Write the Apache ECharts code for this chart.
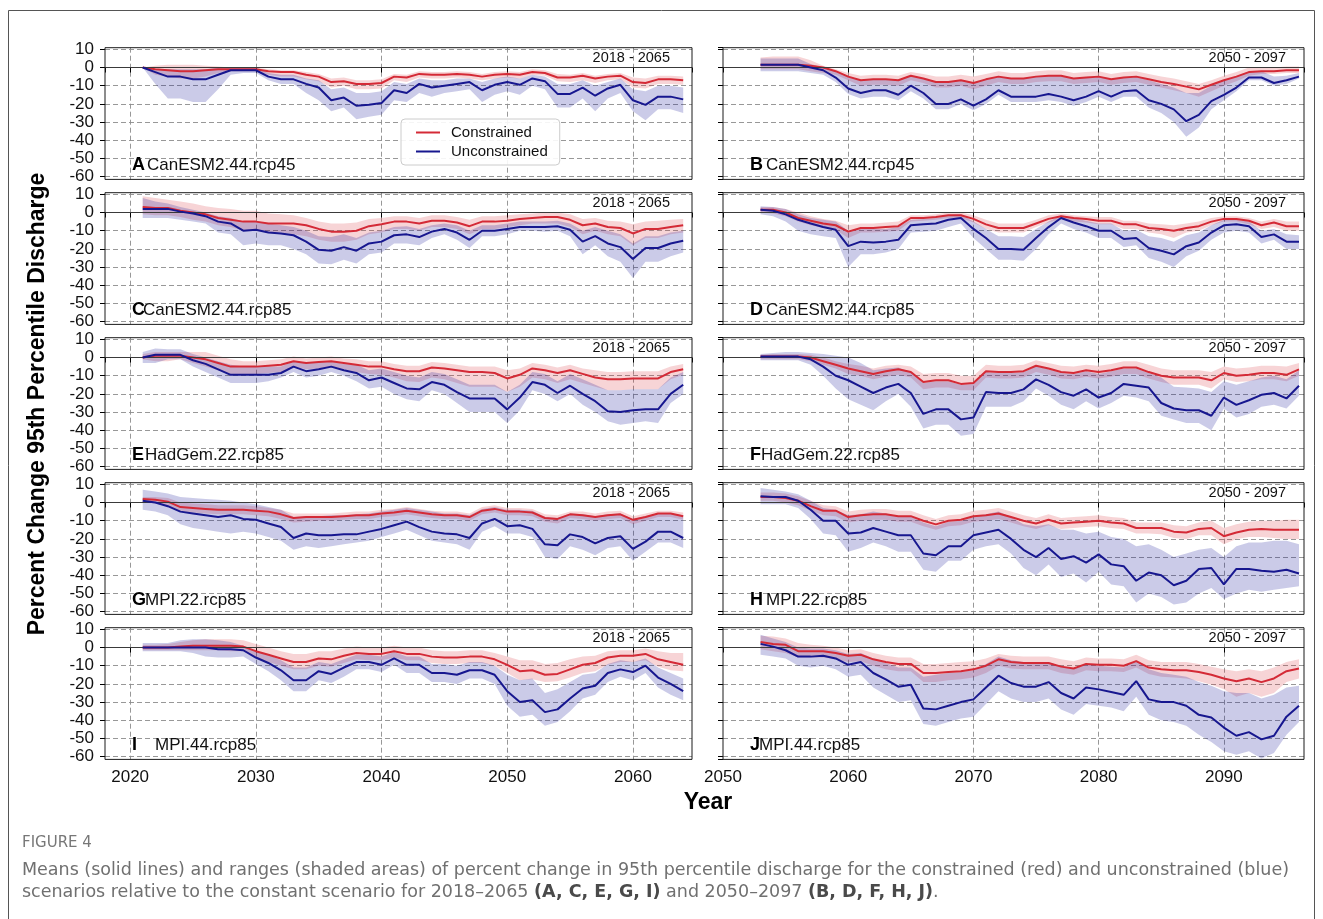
<!DOCTYPE html>
<html>
<head>
<meta charset="utf-8">
<script src="https://cdn.jsdelivr.net/npm/echarts@6/dist/echarts.min.js"></script>
<style>
  html, body { margin: 0; padding: 0; background: #fff; }
  #chart { width: 1323px; height: 919px; }
</style>
</head>
<body>
<div id="chart"></div>
<script>
// ---- years on each time window ----
const yearsEarly = [2021,2022,2023,2024,2025,2026,2027,2028,2029,2030,2031,2032,2033,2034,2035,2036,2037,2038,2039,2040,2041,2042,2043,2044,2045,2046,2047,2048,2049,2050,2051,2052,2053,2054,2055,2056,2057,2058,2059,2060,2061,2062,2063,2064];
const yearsLate  = [2053,2054,2055,2056,2057,2058,2059,2060,2061,2062,2063,2064,2065,2066,2067,2068,2069,2070,2071,2072,2073,2074,2075,2076,2077,2078,2079,2080,2081,2082,2083,2084,2085,2086,2087,2088,2089,2090,2091,2092,2093,2094,2095,2096];

const xTicksEarly = [2020, 2030, 2040, 2050, 2060];
const xTicksLate  = [2050, 2060, 2070, 2080, 2090];
const yTicks = [10, 0, -10, -20, -30, -40, -50, -60];
const periodEarly = '2018 - 2065';
const periodLate  = '2050 - 2097';

// ---- A: CanESM2.44.rcp45 (2018-2065) ----
const A_con   = [0,-1,-1.5,-2,-2,-1.5,-1,-1,-1,-1,-2,-2.5,-2.5,-4,-5,-8,-7.5,-9,-9,-8.5,-5,-5.5,-3.5,-4,-4,-3.5,-4,-5,-4,-3.5,-4,-2.5,-3,-5.5,-5.5,-4.5,-6,-5,-4.5,-8,-8.5,-6.5,-6.5,-7];
const A_conHi = [0,1,1.5,1.5,1.5,1,0.5,0,0,0,-1,-1.5,-1.5,-2.5,-3.5,-6,-5.5,-7,-7,-6.5,-3.5,-4,-2,-2.5,-2.5,-2,-2.5,-3.5,-2.5,-2,-2.5,-1,-1.5,-3.5,-4,-3,-4.5,-3.5,-3,-5.5,-6,-4.5,-4.5,-5];
const A_conLo = [0,-4,-5,-6,-6,-5,-3,-2,-2,-2,-4,-5,-5,-6.5,-7.5,-11,-10,-12,-12,-11.5,-7,-8,-5.5,-6,-6,-5.5,-6,-7,-6,-5.5,-6,-4,-4.5,-7.5,-8,-7,-8.5,-7,-6.5,-11,-11.5,-9,-9,-9.5];
const A_unc   = [0,-2.5,-5,-5,-6.5,-6.5,-4,-1.5,-1.5,-1.5,-5,-6.5,-6.5,-9,-11,-18,-16.5,-21,-20.5,-19.5,-12.5,-14,-9,-11,-10,-9,-8,-12.5,-9.5,-8,-9.5,-6,-7.5,-14.5,-14.5,-11,-15.5,-11.5,-9.5,-18,-20.5,-16,-16,-17.5];
const A_uncHi = [0,-1,-1,-1,-1,-1,0,0,0,0,-3,-4,-4,-6,-7,-12,-11,-14,-14,-13,-8,-9,-6,-7,-7,-6,-6,-8,-6,-5,-6,-4,-5,-9,-9,-7,-10,-8,-6,-12,-13,-10,-10,-11];
const A_uncLo = [0,-9,-17,-17,-19,-19,-12,-4,-3,-3,-7,-9,-9,-14,-18,-24,-22,-28.5,-27,-26,-18,-19,-14,-16,-14,-13,-12,-19,-15,-13,-15,-10,-12,-22,-22,-17,-24,-17,-14,-24,-29,-23,-23,-25];

// ---- B: CanESM2.44.rcp45 (2050-2097) ----
const B_con   = [1.5,1.5,1.5,1.5,1,0,-2,-5,-7,-6.5,-6.5,-7,-4.5,-6,-8,-8,-7,-8.5,-6.5,-5,-6,-6,-5,-4.5,-4.5,-6,-5.5,-5,-6.5,-5.5,-5,-6.5,-8,-9,-10.5,-12,-9.5,-7,-5,-2.5,-2,-2,-1.5,-1.5];
const B_conHi = [5.5,6,6,6,4,1,-1,-3,-4.5,-4,-4,-4.5,-2.5,-3.5,-5,-5,-4,-5,-3.5,-2,-3,-3,-2,-1.5,-1.5,-3,-2.5,-2,-3.5,-2.5,-2,-3.5,-5,-6,-7.5,-9,-7,-4.5,-2.5,0,0,0,0.5,0.5];
const B_conLo = [-1,-1,-1,-1,-2,-3,-4,-7,-10,-9.5,-9.5,-10,-7,-8.5,-11,-11,-10,-12,-10,-8,-9,-9,-8,-7.5,-7.5,-9,-8.5,-8,-9.5,-8.5,-8,-9.5,-11,-12.5,-14,-16,-13,-10,-7.5,-4.5,-3.5,-3.5,-3,-3];
const B_unc   = [1.5,1.5,1.5,1.5,0,-1.5,-5.5,-11.5,-14,-12.5,-12.5,-15,-10,-14,-20,-20,-17.5,-21,-17.5,-12.5,-16,-16,-16,-14.5,-16,-18,-16,-13,-16,-13,-12.5,-18,-20,-23,-29.5,-26,-18.5,-15,-11,-5.5,-5.5,-8.5,-7,-5];
const B_uncHi = [5,5,5,5,2,0,-2,-5,-7,-6.5,-6.5,-7,-4.5,-6,-8,-8,-7,-8.5,-6.5,-5,-6,-6,-5,-4.5,-4.5,-6,-5.5,-5,-6.5,-5.5,-5,-7,-9,-11,-14,-14,-10,-7,-5,-2,-2,-5,-4.5,-3];
const B_uncLo = [-2,-2,-2,-2,-3,-4,-8,-14.5,-17,-16,-16,-18,-13,-17,-23,-23,-20,-23.5,-20,-15,-19,-19,-19,-18,-19,-21,-19,-16,-19,-16,-16,-22,-25,-30,-38,-33,-23,-18,-13,-7,-7,-10,-9,-6];

// ---- C: CanESM2.44.rcp85 (2018-2065) ----
const C_con   = [3,2.5,2.5,1,0,-1,-3,-4,-5,-5,-6,-6,-6,-7,-9,-10.5,-10.5,-10,-7.5,-6.5,-5,-5,-6,-4.5,-4.5,-5.5,-7.5,-5,-5,-4.5,-3.5,-3,-2.5,-2.5,-4,-7,-6,-8,-8.5,-11.5,-9,-9,-8,-7];
const C_conHi = [9,8,7,6,5,3.5,2.5,2,1,1,-0.5,-1,-1.5,-3,-5,-6,-6,-5.5,-3.5,-3,-2,-2,-3,-1.5,-1.5,-2.5,-4,-2,-2,-1.5,-1,-0.5,0,0,-1,-3.5,-3,-4.5,-5,-6.5,-5,-4.5,-4,-3.5];
const C_conLo = [-1,-1.5,-1.5,-2.5,-4,-5,-7,-8,-10,-10,-11,-11,-12,-13,-15,-16,-16,-15,-12,-11,-9,-9,-10,-8,-8,-9,-12,-9,-9,-8,-7,-6,-6,-6,-8,-12,-10,-12,-13,-18,-14,-14,-12,-11];
const C_unc   = [2,2,2,0.5,-0.5,-2,-5,-6,-10,-9.5,-11,-11.5,-12.5,-16,-20.5,-21,-19,-21,-17,-16,-12.5,-12,-13.5,-10.5,-9,-11,-15,-10,-10,-9,-8,-8,-8,-7.5,-9.5,-16,-13,-17,-19,-25.5,-19.5,-19.5,-17,-15.5];
const C_uncHi = [8,6,5,3,1.5,0,-2,-3,-5,-5,-6,-7,-8,-10,-13,-13.5,-12,-14,-11,-10,-8,-7.5,-9,-7,-6,-7,-10,-7,-7,-6,-5,-5,-5,-4.5,-6,-10,-8,-10,-12,-17,-13,-13,-11,-10];
const C_uncLo = [-3,-3,-3,-4,-5,-6,-11,-12,-18,-17,-18,-18,-20,-23,-28,-28.5,-26,-28,-23,-22,-17,-17,-18,-14,-12,-15,-19.5,-13,-13,-12,-10,-10,-10.5,-10,-13,-23,-18,-24,-27,-36,-27,-27,-24,-22];

// ---- D: CanESM2.44.rcp85 (2050-2097) ----
const D_con   = [1.5,1.5,0,-3,-4.5,-6,-7,-10.5,-8.5,-8.5,-8,-7.5,-3,-3,-2.5,-1.5,-1.5,-3.5,-6.5,-8.5,-8.5,-8.5,-6,-3.5,-2,-3,-3.5,-4.5,-4.5,-6.5,-6.5,-8.5,-9,-10,-8.5,-7.5,-5,-3.5,-3.5,-4.5,-7,-5.5,-7.5,-7.5];
const D_conHi = [3,3,2,0,-2,-3.5,-4.5,-7,-6,-6,-5.5,-5,-1.5,-1.5,-1,0,0,-1.5,-4,-6,-6,-6,-4,-1.5,-0.5,-1.5,-2,-2.5,-2.5,-4.5,-4.5,-6,-6.5,-7,-6,-5,-3,-2,-2,-3,-5,-3.5,-5,-5];
const D_conLo = [0,-0.5,-2,-5,-7,-8.5,-9.5,-14,-11,-11,-10.5,-10,-5,-4.5,-4,-3,-3,-5.5,-9,-11,-11,-11,-8,-5.5,-3.5,-5,-5.5,-6.5,-6.5,-9,-9,-11,-12,-14,-11,-10,-7,-5,-5,-6.5,-9,-8,-10,-10];
const D_unc   = [1.5,1,-1,-4,-6,-8,-9.5,-18.5,-16,-16.5,-16,-15,-7,-6.5,-6,-4,-3,-9,-14,-20,-20,-20.5,-14,-8,-3,-5.5,-7.5,-10,-10,-14.5,-14,-19.5,-21,-23,-18.5,-16.5,-11,-7,-6.5,-7.5,-13.5,-12,-16,-16];
const D_uncHi = [3.5,3,2,-1,-3,-4,-5,-10,-9,-9,-9,-8,-4,-3.5,-3,-1.5,-1,-5,-9,-13,-13,-13.5,-9,-5,-1.5,-3,-4.5,-6,-6,-10,-9.5,-13,-14,-16,-12.5,-11,-7,-4,-4,-5,-10,-9,-12,-12.5];
const D_uncLo = [-1,-2,-5,-10,-12,-13,-14,-30,-23,-23,-22,-20,-11,-10.5,-10,-8,-6,-14,-20,-26,-26,-26.5,-20,-12,-6,-9,-11,-14,-14,-19,-18,-25,-27,-30,-24,-21,-15,-11,-10,-11,-17,-15,-20,-20];

// ---- E: HadGem.22.rcp85 (2018-2065) ----
const E_con   = [0,1,1,1,0,-1,-3,-5,-5,-5,-4.5,-4,-2,-3,-2.5,-2,-3,-4,-5,-5,-6.5,-7.5,-7.5,-5.5,-6,-7,-8,-8,-8.5,-11.5,-9.5,-6,-7,-8.5,-7,-9,-11,-12,-12,-11.5,-11.5,-11.5,-8,-6.5];
const E_conHi = [2,3,3,3,3,3,1,-1,-2,-2,-1.5,-1,0.5,-0.5,0,0.5,-0.5,-1,-2,-2,-3.5,-4.5,-4.5,-2.5,-3,-4,-5,-5,-5,-7,-6,-3,-4,-5.5,-4,-6,-7,-8,-8,-7.5,-7.5,-7.5,-5,-3.5];
const E_conLo = [-1,-2,-2,-1,-3,-5,-7,-9,-9,-9,-8.5,-8,-5,-6.5,-6,-5,-6.5,-8,-9,-9.5,-11,-13,-13.5,-11,-12,-14,-16,-16,-16,-19,-16,-11,-12,-14,-12,-14,-16,-18,-18,-17.5,-17.5,-17.5,-12,-9.5];
const E_unc   = [0,1.5,1.5,1.5,-1.5,-3.5,-6.5,-9.5,-9.5,-9.5,-9.5,-8.5,-5,-7.5,-6.5,-5,-7,-8.5,-12.5,-11,-14,-17,-17.5,-13.5,-15,-19,-22.5,-22.5,-22.5,-28.5,-22,-13.5,-15,-19.5,-15.5,-20,-24,-29.5,-30,-29,-28.5,-28.5,-20,-15];
const E_uncHi = [3,5,4.5,4.5,2,0,-2,-4,-5,-5,-5,-5,-2,-3,-2.5,-2,-3.5,-4,-7,-6,-8,-10,-11,-8,-9,-12,-15,-15,-15,-19,-15,-8,-9,-13,-9,-12,-15,-18,-18,-17.5,-17.5,-17.5,-11,-8];
const E_uncLo = [-3,-3,-1,-1,-5,-8,-11,-14,-14,-14,-13,-11,-8,-11,-10,-8,-10,-13,-17,-16,-20,-23,-24,-18,-20,-25,-30,-30,-30,-36,-29,-18,-20,-24,-20,-26,-30,-35,-37,-36,-35,-36,-25,-20];

// ---- F: HadGem.22.rcp85 (2050-2097) ----
const F_con   = [0.5,0.5,0.5,0.5,0,-2,-4,-6,-7.5,-9,-7.5,-6.5,-8,-13.5,-12.5,-12.5,-14.5,-14,-7.5,-8,-8,-7.5,-4.5,-6,-8,-8.5,-7,-8,-7,-5.5,-5.5,-8,-10,-11,-11,-11,-12.5,-8.5,-10,-9.5,-8.5,-8.5,-9.5,-6.5];
const F_conHi = [1.5,2,2,2,1.5,0,-2,-3.5,-4.5,-6,-4.5,-4,-5,-9,-8.5,-8.5,-10,-10,-4,-4.5,-4.5,-4,-1.5,-3,-4.5,-5,-4,-4.5,-3.5,-2,-2,-4,-6,-7,-7,-7,-8,-5,-6,-5.5,-4.5,-4.5,-5,-3];
const F_conLo = [-1,-1,-1,-1,-2,-4,-6,-9,-10,-12,-10.5,-9.5,-11,-17.5,-16.5,-16.5,-18,-18,-11,-11.5,-11.5,-11,-8,-9.5,-11.5,-12,-10.5,-11.5,-10.5,-9,-9,-11.5,-13.5,-15,-15,-15,-17,-12,-13.5,-13,-12,-12,-13,-10];
const F_unc   = [0.5,0.5,0.5,0.5,-1,-5,-10,-12.5,-16,-19.5,-16.5,-14.5,-19.5,-31,-28.5,-28.5,-34,-33,-19,-19.5,-19.5,-17.5,-12,-15,-19,-21,-17.5,-22,-19.5,-14.5,-15.5,-16.5,-25,-28,-29,-29,-32,-22,-26,-23.5,-20.5,-19.5,-22.5,-15.5];
const F_uncHi = [2,2.5,3,3,2.5,2,1,0,-3,-7,-6,-5.5,-8,-14,-13,-13,-15,-14.5,-8,-8.5,-8.5,-8,-5,-6.5,-8.5,-9,-7.5,-9,-7.5,-6,-6,-8.5,-11,-16,-16.5,-17,-19,-13,-15,-13,-11,-10,-12,-7];
const F_uncLo = [-1.5,-1.5,-1.5,-1.5,-4,-10,-17,-23,-26,-29,-24,-20,-27,-39,-37,-37,-43,-42,-27,-27,-27,-24,-17,-21,-26,-28.5,-24,-28,-25,-21,-22,-24,-32,-34,-36,-36,-40,-28,-33,-31,-27,-26,-28,-21];

// ---- G: MPI.22.rcp85 (2018-2065) ----
const G_con   = [2,1.5,0.5,-2.5,-3,-3.5,-4,-4,-4,-4.5,-5,-6.5,-8.5,-8,-8,-8,-7.5,-7,-7,-6,-5.5,-4.5,-5.5,-6.5,-7,-7,-8,-4.5,-3.5,-5,-5,-5.5,-8.5,-9,-6.5,-7,-8,-7,-6.5,-9.5,-8,-6,-6,-7.5];
const G_conHi = [3,3,2.5,0,-0.5,-1,-1.5,-1.5,-1.5,-2,-3,-4,-6,-6,-6,-6,-5.5,-5,-5,-4,-3.5,-2.5,-3.5,-4.5,-5,-5,-6,-2.5,-1.5,-3,-3,-3.5,-6.5,-7,-5,-5,-6,-5,-4.5,-7.5,-6,-4.5,-4.5,-5.5];
const G_conLo = [0,-0.5,-2,-5,-5.5,-6,-6.5,-6.5,-6.5,-7,-7.5,-9,-11,-10.5,-10,-10,-9.5,-9,-9,-8,-7.5,-6.5,-7.5,-8.5,-9,-9,-10,-6.5,-5.5,-7,-7,-7.5,-10.5,-11.5,-8.5,-9,-10,-9,-8.5,-12,-10,-8,-8,-9.5];
const G_unc   = [1,0,-2,-5,-6,-7,-8,-7,-9,-9.5,-11.5,-13.5,-19.5,-17,-18,-18,-17.5,-17.5,-16,-14.5,-12.5,-10.5,-13.5,-16,-17,-17.5,-19.5,-11.5,-9,-13,-12.5,-14.5,-23,-23.5,-17.5,-19,-22.5,-19.5,-18.5,-25.5,-21.5,-16,-16,-19.5];
const G_uncHi = [7,6,5,3,2.5,2,1.5,1,0,-1,-2.5,-4,-8,-7.5,-7.5,-7,-7,-6.5,-6,-5,-4,-3,-4,-5,-6,-6,-7,-3.5,-2.5,-4,-4,-4.5,-8,-8.5,-6,-6.5,-7.5,-6.5,-6,-9,-7.5,-6,-6,-7];
const G_uncLo = [-4,-5,-7,-12,-14,-15,-16,-17,-16,-17,-19,-21,-26,-24,-25,-24,-23,-22,-21,-19,-17,-15,-18,-21,-22,-23,-26,-16,-13,-17,-17,-19,-30,-31,-24,-26,-29,-25,-24,-32,-27,-22,-22,-25];

// ---- H: MPI.22.rcp85 (2050-2097) ----
const H_con   = [3,3,2.5,1,-2,-4.5,-4.5,-8,-7,-6.5,-6.5,-7.5,-7.5,-10,-12,-10,-9.5,-7.5,-7,-6,-8,-10,-11.5,-9.5,-11.5,-11,-10.5,-10,-11,-11.5,-14,-14,-14,-16,-16.5,-14.5,-14,-18.5,-16.5,-15,-14.5,-15,-15,-15];
const H_conHi = [5.5,5.5,5,3.5,1,-1.5,-2,-5,-4,-3.5,-3.5,-4.5,-4.5,-7,-9,-7,-6.5,-4.5,-4,-3,-5,-7,-8.5,-6.5,-8.5,-8,-7.5,-7,-8,-8.5,-11,-11,-11,-12.5,-13,-11,-10,-14,-12,-10.5,-10,-10,-9.5,-9.5];
const H_conLo = [1,1,0,-1.5,-4.5,-7,-7.5,-11,-10,-9.5,-9.5,-10.5,-10.5,-13,-15,-13,-12.5,-10.5,-10,-9,-11,-13,-14.5,-12.5,-14.5,-14,-13.5,-13,-14,-14.5,-17,-17,-17.5,-19.5,-20,-18,-18,-23,-20,-19,-19,-19.5,-20,-20];
const H_unc   = [3.5,3,3,1,-4,-10,-10,-17,-16.5,-14,-16,-18,-18,-28,-29,-24,-24,-18,-16.5,-15,-20,-26,-30,-25,-31,-29.5,-33,-28.5,-34,-35,-43,-38.5,-40,-45.5,-43,-36.5,-36,-45,-36.5,-36.5,-37.5,-38,-37,-39];
const H_uncHi = [8,7,6,4.5,1,-3,-4,-7,-6.5,-5,-6,-7.5,-7.5,-11,-13,-10.5,-10,-8,-6.5,-5,-8,-12,-13,-12,-15,-15,-17,-16,-19,-20,-24,-23,-26,-30,-28,-26,-25,-30,-24,-22,-22,-21,-21,-23];
const H_uncLo = [-1,-1,-1,-3,-9,-17,-18,-27,-25,-22,-24,-27,-27,-37,-38,-32,-32,-26,-24,-23,-28,-36,-40,-34,-41,-39,-44,-38,-45,-46,-55,-50,-52,-56,-55,-50,-47,-53,-50,-48,-49,-48,-47,-46];

// ---- I: MPI.44.rcp85 (2018-2065) ----
const I_con   = [0,0,0,0.5,1,1,1,1,0.5,-2,-4,-6,-8,-8,-6,-6.5,-4.5,-3,-3.5,-3.5,-2,-3.5,-3.5,-5,-5.5,-5.5,-5,-5,-6.5,-9.5,-13,-12.5,-15,-14.5,-12,-9.5,-8.5,-5.5,-4.5,-4.5,-3.5,-6.5,-8,-9.5];
const I_conHi = [1.5,1.5,2,3,4,4.5,4.5,4.5,4,2,0,-2,-3.5,-3.5,-2,-2,-0.5,0.5,0,0,1,0,0,-1.5,-2,-2,-1.5,-1.5,-3,-5,-7,-7,-9,-8.5,-6.5,-5,-4.5,-2,-1.5,-1.5,-0.5,-2,-3,-3];
const I_conLo = [-1.5,-1.5,-1.5,-1.5,-1.5,-1.5,-1.5,-2,-2,-5.5,-8,-10,-12,-12,-10,-10.5,-8.5,-6.5,-7,-7,-5.5,-7,-7,-8.5,-9,-9,-8.5,-8.5,-10,-14,-18,-17.5,-19,-18.5,-16.5,-14,-13,-9.5,-8,-8,-7,-10.5,-12.5,-13];
const I_unc   = [0,0,0,0,0,0,-1,-1,-1.5,-5.5,-8.5,-12.5,-18,-18,-13,-14.5,-11,-8,-8,-9.5,-6,-9.5,-9.5,-14,-14,-15,-12.5,-12.5,-15,-24,-30,-29,-35.5,-34,-28,-22.5,-21,-14,-12,-13.5,-10,-16.5,-20,-24];
const I_uncHi = [2.5,2.5,2.5,4,4.5,4.5,4,3,1,-2,-4,-7,-11,-11,-8,-9,-6.5,-4,-4,-5,-2.5,-5,-5,-9,-9,-10,-8,-8,-10,-15,-18,-17,-25,-23,-19,-15,-14,-9,-7,-8,-6,-11,-14,-17];
const I_uncLo = [-2,-2,-2,-2,-3,-5,-5.5,-5.5,-5,-9,-13,-18,-24,-24,-18,-19.5,-16,-12,-12,-13.5,-9.5,-14,-14,-19,-19,-20,-17,-17,-20,-32,-38,-37,-43,-41,-35,-28,-26,-19,-16,-18,-14,-22,-26,-29];

// ---- J: MPI.44.rcp85 (2050-2097) ----
const J_con   = [3,2,1.5,-2,-2,-2,-3,-4.5,-4,-6.5,-8,-9,-9,-14,-14,-13.5,-13,-12,-10,-6.5,-8,-8.5,-8.5,-8.5,-10.5,-11.5,-9,-9.5,-9.5,-10,-7.5,-11,-12,-12.5,-12.5,-13.5,-15,-17,-18.5,-17,-19,-17,-13,-11.5];
const J_conHi = [6.5,6,5,2.5,1.5,1,0,-1.5,-1,-3,-4.5,-5.5,-5.5,-9,-9,-8.5,-8,-7.5,-6,-3.5,-4.5,-5,-5,-5,-6.5,-7.5,-5.5,-6,-6,-6.5,-4,-7,-8,-8,-8,-9,-10.5,-12,-13,-12,-13,-11,-8,-6.5];
const J_conLo = [-1,-2,-3,-5.5,-5.5,-5.5,-6.5,-8,-7.5,-10,-12,-13,-13,-19,-19,-18,-17.5,-16.5,-14,-10,-11.5,-12,-12,-12,-14,-15,-12.5,-13,-13,-13.5,-11,-14.5,-16,-16.5,-17,-18.5,-20.5,-23,-27,-25,-27,-25,-19,-17];
const J_unc   = [2,0.5,-1.5,-5,-5,-4.5,-6,-9.5,-8,-14,-17.5,-21.5,-20.5,-33.5,-34,-32,-30,-28.5,-22,-15.5,-19.5,-21.5,-21.5,-19,-25,-28,-22,-23,-24.5,-26,-18.5,-28.5,-30,-30,-32,-37,-38.5,-44,-48.5,-46.5,-50.5,-48.5,-38,-32];
const J_uncHi = [7,5,3,0,-0.5,-0.5,-1.5,-3.5,-3,-6,-8.5,-11,-11,-16,-15,-14,-13.5,-12.5,-9,-5,-7,-8,-8,-8,-10.5,-12,-9,-10,-10.5,-11,-7,-12,-14,-15,-16,-19,-21,-24,-25,-25,-28,-26,-22,-21];
const J_uncLo = [-4,-5,-6,-10,-11,-10,-12,-16,-15,-22,-26,-30,-29,-42,-43,-41,-39,-38,-31,-24,-28,-30,-30,-28,-34,-37,-31,-32,-33,-35,-27,-37,-40,-41,-43,-48,-52,-57,-59,-57,-61,-58,-48,-41];

// ---- panel list (row-major: left column 2018-2065, right column 2050-2097) ----
const panels = [
  { letter: 'A', model: 'CanESM2.44.rcp45', period: periodEarly, years: yearsEarly, con: A_con, conHi: A_conHi, conLo: A_conLo, unc: A_unc, uncHi: A_uncHi, uncLo: A_uncLo },
  { letter: 'B', model: 'CanESM2.44.rcp45', period: periodLate,  years: yearsLate,  con: B_con, conHi: B_conHi, conLo: B_conLo, unc: B_unc, uncHi: B_uncHi, uncLo: B_uncLo },
  { letter: 'C', model: 'CanESM2.44.rcp85', period: periodEarly, years: yearsEarly, con: C_con, conHi: C_conHi, conLo: C_conLo, unc: C_unc, uncHi: C_uncHi, uncLo: C_uncLo },
  { letter: 'D', model: 'CanESM2.44.rcp85', period: periodLate,  years: yearsLate,  con: D_con, conHi: D_conHi, conLo: D_conLo, unc: D_unc, uncHi: D_uncHi, uncLo: D_uncLo },
  { letter: 'E', model: 'HadGem.22.rcp85',  period: periodEarly, years: yearsEarly, con: E_con, conHi: E_conHi, conLo: E_conLo, unc: E_unc, uncHi: E_uncHi, uncLo: E_uncLo },
  { letter: 'F', model: 'HadGem.22.rcp85',  period: periodLate,  years: yearsLate,  con: F_con, conHi: F_conHi, conLo: F_conLo, unc: F_unc, uncHi: F_uncHi, uncLo: F_uncLo },
  { letter: 'G', model: 'MPI.22.rcp85',     period: periodEarly, years: yearsEarly, con: G_con, conHi: G_conHi, conLo: G_conLo, unc: G_unc, uncHi: G_uncHi, uncLo: G_uncLo },
  { letter: 'H', model: 'MPI.22.rcp85',     period: periodLate,  years: yearsLate,  con: H_con, conHi: H_conHi, conLo: H_conLo, unc: H_unc, uncHi: H_uncHi, uncLo: H_uncLo },
  { letter: 'I', model: 'MPI.44.rcp85',     period: periodEarly, years: yearsEarly, con: I_con, conHi: I_conHi, conLo: I_conLo, unc: I_unc, uncHi: I_uncHi, uncLo: I_uncLo },
  { letter: 'J', model: 'MPI.44.rcp85',     period: periodLate,  years: yearsLate,  con: J_con, conHi: J_conHi, conLo: J_conLo, unc: J_unc, uncHi: J_uncHi, uncLo: J_uncLo }
];

// ---- layout & style ----
const FONT = '"Liberation Sans", Arial, Helvetica, sans-serif';
const CAPTION_FONT = '"DejaVu Sans", "Noto Sans", sans-serif';
const RED = '#d42a36';
const BLUE = '#17178f';
const RED_FILL = 'rgba(214, 39, 50, 0.2)';
const BLUE_FILL = 'rgba(20, 20, 150, 0.22)';
const colLeft = [105, 723];
const colWidth = [587, 581];
const rowTop = 47.7, rowStep = 145, rowHeight = 131.7;
const xExtent = [[2018, 2064.7], [2050, 2096.4]];
const yExtent = [-61.5, 10.9];
const periodInset = [22, 18];
const nameOffset = { A: 42, C: 38, E: 40, G: 40, I: 50, B: 43, D: 43, F: 38, H: 43, J: 36 };

// shaded min-max range drawn as one polygon through the axis scales
function rangeSeries(i, name, years, lo, hi, fill, z, extra) {
  return Object.assign({
    type: 'custom', name, xAxisIndex: i, yAxisIndex: i, silent: true, z,
    data: years.map((yr, k) => [yr, lo[k], hi[k]]),
    encode: { x: 0, y: [1, 2] },
    renderItem: (params, api) => {
      if (params.dataIndex !== 0) return null;
      const upper = years.map((yr, k) => api.coord([yr, hi[k]]));
      const lower = years.map((yr, k) => api.coord([yr, lo[k]])).reverse();
      return { type: 'polygon', shape: { points: upper.concat(lower) }, style: { fill } };
    }
  }, extra || {});
}

const grids = [], xAxes = [], yAxes = [], series = [], graphics = [];

panels.forEach((p, i) => {
  const row = Math.floor(i / 2), col = i % 2;
  const left = colLeft[col], top = rowTop + row * rowStep;
  const width = colWidth[col], height = rowHeight;

  grids.push({ left, top, width, height, show: false, containLabel: false });

  xAxes.push({
    type: 'value', gridIndex: i,
    min: xExtent[col][0], max: xExtent[col][1], splitNumber: 5,
    axisLine: { show: false },
    axisTick: { show: true, length: 5, lineStyle: { color: '#000', width: 1 } },
    axisLabel: {
      show: row === 4, showMinLabel: col === 1, showMaxLabel: false,
      fontFamily: FONT, fontSize: 17, color: '#111', margin: 9,
      formatter: v => (col === 0 ? xTicksEarly : xTicksLate).includes(v) ? String(v) : ''
    },
    splitLine: { show: true, showMinLine: false, showMaxLine: false,
      lineStyle: { color: '#8c8c8c', width: 0.9, type: [5, 3] } }
  });

  yAxes.push({
    type: 'value', gridIndex: i,
    min: yExtent[0], max: yExtent[1], splitNumber: 7,
    axisLine: { show: false },
    axisTick: { show: true, length: 5, lineStyle: { color: '#000', width: 1 } },
    axisLabel: {
      show: col === 0, showMinLabel: false, showMaxLabel: false,
      fontFamily: FONT, fontSize: 17, color: '#111', margin: 11,
      formatter: v => yTicks.includes(v) ? String(v) : ''
    },
    splitLine: { show: true, showMinLine: false, showMaxLine: false,
      lineStyle: { color: '#8c8c8c', width: 0.9, type: [5, 3] } }
  });

  const pairs = arr => p.years.map((yr, k) => [yr, arr[k]]);

  series.push(
    rangeSeries(i, 'Constrained range', p.years, p.conLo, p.conHi, RED_FILL, 1),
    rangeSeries(i, 'Unconstrained range', p.years, p.uncLo, p.uncHi, BLUE_FILL, 2, {
      markLine: { silent: true, symbol: ['none', 'none'], label: { show: false },
        lineStyle: { color: '#3a3a3a', width: 1.2, type: 'solid' }, data: [{ yAxis: 0 }] }
    }),
    { type: 'line', name: 'Constrained', xAxisIndex: i, yAxisIndex: i, data: pairs(p.con),
      symbol: 'none', lineStyle: { color: RED, width: 2 }, itemStyle: { color: RED }, z: 4 },
    { type: 'line', name: 'Unconstrained', xAxisIndex: i, yAxisIndex: i, data: pairs(p.unc),
      symbol: 'none', lineStyle: { color: BLUE, width: 2 }, itemStyle: { color: BLUE }, z: 5 }
  );

  // panel frame
  graphics.push({ type: 'rect', z: 100, silent: true,
    shape: { x: left, y: top, width, height },
    style: { fill: 'none', stroke: '#1a1a1a', lineWidth: 1 } });
  // period label
  graphics.push({ type: 'text', z: 101, silent: true, x: left + width - periodInset[col], y: top + 10.6,
    style: { text: p.period, font: '14.5px ' + FONT, fill: '#111', align: 'right', verticalAlign: 'middle',
      textAlign: 'right', textVerticalAlign: 'middle' } });
  // panel letter + model name
  graphics.push({ type: 'text', z: 101, silent: true, x: left + 27, y: top + height - 14.4,
    style: { text: p.letter, font: 'bold 18px ' + FONT, fill: '#000', align: 'left', verticalAlign: 'middle',
      textAlign: 'left', textVerticalAlign: 'middle' } });
  graphics.push({ type: 'text', z: 101, silent: true, x: left + nameOffset[p.letter], y: top + height - 14.4,
    style: { text: p.model, font: '17px ' + FONT, fill: '#111', align: 'left', verticalAlign: 'middle',
      textAlign: 'left', textVerticalAlign: 'middle' } });
});

// axis titles
graphics.push({ type: 'text', z: 101, silent: true, x: 38, y: 404, rotation: Math.PI / 2,
  style: { text: 'Percent Change 95th Percentile Discharge', font: 'bold 23px ' + FONT, fill: '#000',
    align: 'center', verticalAlign: 'middle', textAlign: 'center', textVerticalAlign: 'middle' } });
graphics.push({ type: 'text', z: 101, silent: true, x: 708, y: 803,
  style: { text: 'Year', font: 'bold 23px ' + FONT, fill: '#000',
    align: 'center', verticalAlign: 'middle', textAlign: 'center', textVerticalAlign: 'middle' } });

// outer figure frame
graphics.push({ type: 'rect', z: 0, silent: true,
  shape: { x: 8.5, y: 10.5, width: 1306, height: 930 },
  style: { fill: 'none', stroke: '#555', lineWidth: 1 } });

// caption
graphics.push({ type: 'text', z: 101, silent: true, x: 22, y: 843,
  style: { text: 'FIGURE 4', font: '15px ' + CAPTION_FONT, fill: '#777', align: 'left', verticalAlign: 'middle',
    textAlign: 'left', textVerticalAlign: 'middle' } });
graphics.push({ type: 'text', z: 101, silent: true, x: 22, y: 870,
  style: { text: 'Means (solid lines) and ranges (shaded areas) of percent change in 95th percentile discharge for the constrained (red) and unconstrained (blue)',
    font: '17.5px ' + CAPTION_FONT, fill: '#707070', align: 'left', verticalAlign: 'middle',
    textAlign: 'left', textVerticalAlign: 'middle' } });
graphics.push({ type: 'text', z: 101, silent: true, x: 22, y: 892,
  style: { text: 'scenarios relative to the constant scenario for 2018\u20132065 {b|(A, C, E, G, I)} and 2050\u20132097 {b|(B, D, F, H, J)}.',
    font: '17.5px ' + CAPTION_FONT, fill: '#707070', align: 'left', verticalAlign: 'middle',
    textAlign: 'left', textVerticalAlign: 'middle',
    rich: { b: { fontFamily: CAPTION_FONT, fontSize: 17.5, fontWeight: 'bold', fill: '#4a4a4a' } } } });

const chart = echarts.init(document.getElementById('chart'), null, { renderer: 'canvas' });
chart.setOption({
  animation: false,
  backgroundColor: '#fff',
  grid: grids,
  xAxis: xAxes,
  yAxis: yAxes,
  legend: {
    data: [{ name: 'Constrained', icon: 'rect' }, { name: 'Unconstrained', icon: 'rect' }],
    orient: 'vertical', left: 401, top: 119,
    padding: [5, 12, 5, 15], itemGap: 2, itemWidth: 24, itemHeight: 2,
    backgroundColor: 'rgba(255,255,255,0.9)', borderColor: '#cccccc', borderWidth: 1, borderRadius: 4,
    textStyle: { fontFamily: FONT, fontSize: 15, color: '#111', padding: [0, 0, 0, 6], lineHeight: 17 },
    selectedMode: false, z: 50
  },
  series,
  graphic: { elements: graphics }
});
</script>
</body>
</html>
